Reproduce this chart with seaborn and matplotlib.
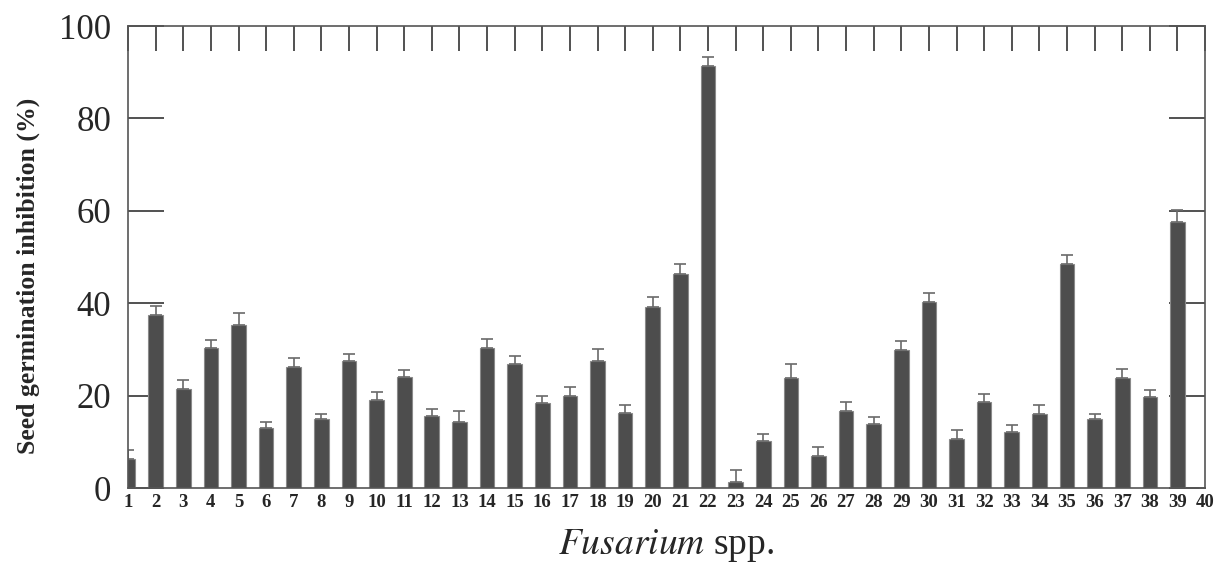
import numpy as np
import pandas as pd
import seaborn as sns
import matplotlib.pyplot as plt

# Fusarium isolates 1..40, seed germination inhibition (%) and upper SE
isolates = [str(i) for i in range(1, 41)]
inhibition = [6.2, 37.4, 21.4, 30.4, 35.2, 13.0, 26.3, 14.9, 27.5, 19.0,
              24.0, 15.6, 14.3, 30.3, 26.8, 18.4, 19.9, 27.5, 16.2, 39.2,
              46.3, 91.4, 1.2, 10.2, 23.9, 7.0, 16.7, 13.9, 29.9, 40.3,
              10.5, 18.7, 12.2, 16.1, 48.5, 15.0, 23.9, 19.8, 57.6, 0.0]
error = [2.0, 1.9, 1.9, 1.6, 2.6, 1.3, 1.8, 1.1, 1.5, 1.8,
         1.5, 1.5, 2.4, 1.9, 1.8, 1.5, 1.9, 2.5, 1.8, 2.1,
         2.2, 1.8, 2.8, 1.4, 2.9, 1.8, 1.9, 1.5, 1.9, 2.0,
         2.0, 1.6, 1.4, 1.8, 1.9, 1.1, 1.9, 1.4, 2.6, 0.0]
y_ticks = [0, 20, 40, 60, 80, 100]

df = pd.DataFrame({'isolate': isolates, 'inhibition': inhibition,
                   'error': error})

sns.set_style('ticks')
plt.rcParams['font.family'] = ['Liberation Serif', 'DejaVu Serif']
plt.rcParams['mathtext.fontset'] = 'stix'

fig = plt.figure(figsize=(12.16, 5.66), dpi=100)
ax = fig.add_axes([0.1053, 0.1378, 0.8857, 0.8162])

sns.barplot(data=df, x='isolate', y='inhibition', color='#4d4d4d',
            saturation=1, width=0.53, edgecolor='#8a8a8a', linewidth=0.8,
            ax=ax)
# one-sided (upper) error bars
ax.errorbar(np.arange(len(isolates)), df['inhibition'],
            yerr=[np.zeros(len(error)), df['error']], fmt='none',
            ecolor='#6a6a6a', elinewidth=1.2, capsize=4, capthick=1.2)

ax.set_xlim(0, len(isolates) - 1)
ax.set_ylim(0, 100)
ax.set_yticks(y_ticks)
ax.set_yticklabels([str(t) for t in y_ticks], fontsize=25)
ax.set_xticklabels(isolates, fontsize=13.5, fontweight='bold')

for side in ['left', 'right', 'top', 'bottom']:
    ax.spines[side].set_color('#555555')
    ax.spines[side].set_linewidth(1.2)

ax.tick_params(axis='x', top=True, bottom=False, direction='in',
               length=18, width=1.2, color='#333333', pad=4)
ax.tick_params(axis='y', left=True, right=True, direction='in',
               length=26, width=1.2, color='#333333', pad=12)

ax.set_ylabel('Seed germination inhibition (%)', fontsize=18.5,
              fontweight='bold')
ax.yaxis.set_label_coords(-0.082, 0.46)
ax.set_xlabel(r'$\mathit{Fusarium}$ spp.', fontsize=27, labelpad=12)

fig.savefig('out.png', dpi=100)
